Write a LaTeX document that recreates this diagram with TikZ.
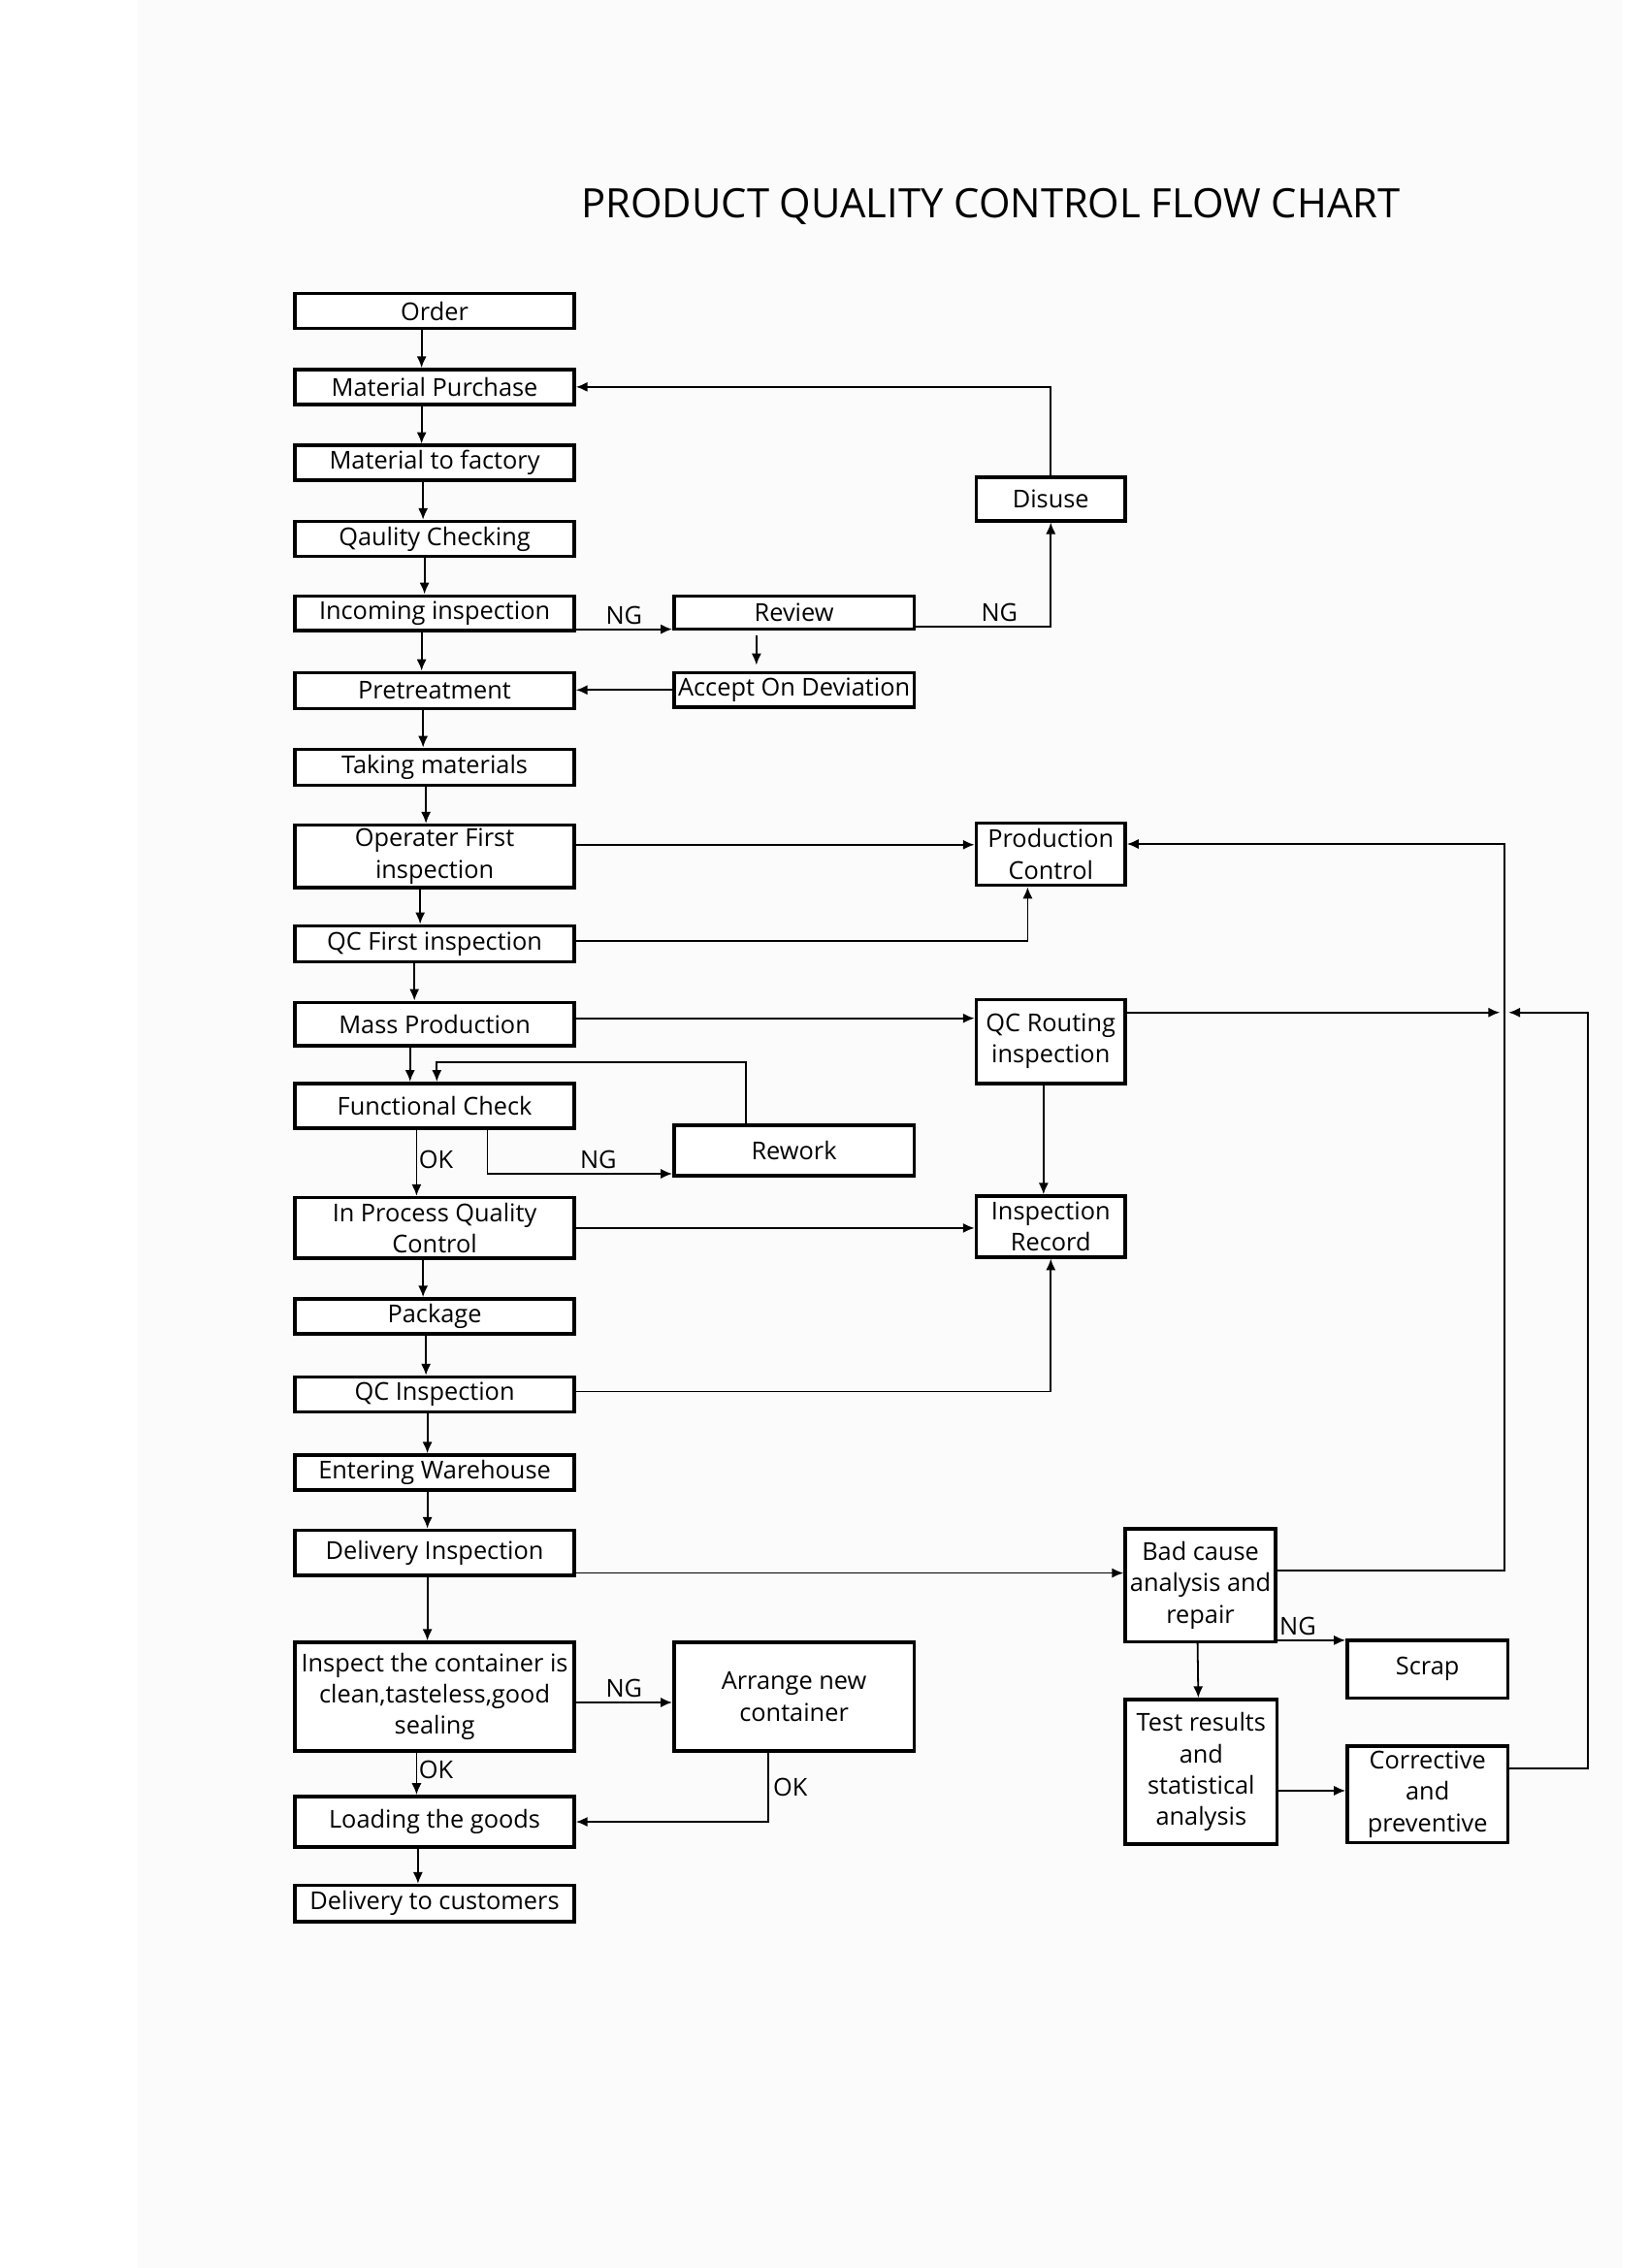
\documentclass[tikz,border=0pt]{standalone}
\usepackage{fontspec}
\setmainfont{Open Sans}
\usetikzlibrary{arrows.meta}

\begin{document}
\begin{tikzpicture}[x=0.5pt,y=-0.5pt,
  box/.style={draw,line width=1.2pt,fill=white,inner sep=0pt,align=center,font=\fontsize{8.5}{10.8}\selectfont},
  lbl/.style={font=\fontsize{8.5}{10.8}\selectfont,inner sep=1.5pt},
  arr/.style={line width=0.6pt,-{Latex[length=4pt,width=3.4pt]}}]
\useasboundingbox (0,0) rectangle (1140,1568);
\fill[black!1.5] (95,0) rectangle (1122,1568);

\node[font=\fontsize{14}{17}\selectfont] (title) at (685,143) {PRODUCT QUALITY CONTROL FLOW CHART};

% main column
\tikzstyle{lbox}=[box,minimum width=96.5pt]
\node[lbox,minimum height=12pt] (order) at (300.5,215) {Order};
\node[lbox,minimum height=12pt] (purchase) at (300.5,267.5) {Material Purchase};
\node[lbox,minimum height=12pt] (factory) at (300.5,320) {Material to factory};
\node[lbox,minimum height=12pt] (checking) at (300.5,372.5) {Qaulity Checking};
\node[lbox,minimum height=12pt] (incoming) at (300.5,424) {Incoming inspection};
\node[lbox,minimum height=12.5pt] (pretreat) at (300.5,477.5) {Pretreatment};
\node[lbox,minimum height=12.5pt] (taking) at (300.5,530.5) {Taking materials};
\node[lbox,minimum height=21.5pt] (operater) at (300.5,592) {Operater First\\inspection};
\node[lbox,minimum height=12.5pt] (qcfirst) at (300.5,652.5) {QC First inspection};
\node[lbox,minimum height=15pt] (mass) at (300.5,708) {Mass Production};
\node[lbox,minimum height=15.5pt] (functional) at (300.5,764.5) {Functional Check};
\node[lbox,minimum height=21pt] (ipqc) at (300.5,849) {In Process Quality\\Control};
\node[lbox,minimum height=12pt] (package) at (300.5,910) {Package};
\node[lbox,minimum height=12pt] (qcinsp) at (300.5,964) {QC Inspection};
\node[lbox,minimum height=12pt] (warehouse) at (300.5,1018) {Entering Warehouse};
\node[lbox,minimum height=15.5pt] (delivinsp) at (300.5,1073.5) {Delivery Inspection};
\node[lbox,minimum height=37.5pt] (container) at (300.5,1173) {Inspect the container is\\clean,tasteless,good\\sealing};
\node[lbox,minimum height=17.5pt] (loading) at (300.5,1259.5) {Loading the goods};
\node[lbox,minimum height=12.5pt] (customers) at (300.5,1316) {Delivery to customers};

% middle column
\tikzstyle{mbox}=[box,minimum width=83pt]
\node[mbox,minimum height=11.5pt] (review) at (549,423.5) {Review};
\node[mbox,minimum height=12pt] (accept) at (549,477) {Accept On Deviation};
\node[mbox,minimum height=17.5pt] (rework) at (549,795.5) {Rework};
\node[mbox,minimum height=37.5pt] (arrange) at (549,1173) {Arrange new\\container};

% right column
\tikzstyle{rbox}=[box,minimum width=51.5pt]
\node[rbox,minimum height=15pt] (disuse) at (726.5,345) {Disuse};
\node[rbox,minimum height=21.5pt] (prodctrl) at (726.5,590.5) {Production\\Control};
\node[rbox,minimum height=29pt] (routing) at (726.5,720) {QC Routing\\inspection};
\node[rbox,minimum height=21pt] (record) at (726.5,848) {Inspection\\Record};
\node[box,minimum width=52pt,minimum height=39pt] (badcause) at (830,1096) {Bad cause\\analysis and\\repair};
\node[box,minimum width=52.5pt,minimum height=50pt] (test) at (830.5,1225) {Test results\\and\\statistical\\analysis};
\node[box,minimum width=55.5pt,minimum height=20pt] (scrap) at (987,1154) {Scrap};
\node[box,minimum width=55.5pt,minimum height=33.5pt] (corrective) at (987,1240.5) {Corrective\\and\\preventive};
\coordinate (bus) at (1040,700);

% straight down the main column
\foreach \a/\b/\s in {order/purchase/-4.5,purchase/factory/-4.5,factory/checking/-4,checking/incoming/-3.5,
  incoming/pretreat/-4.5,pretreat/taking/-4,taking/operater/-3,operater/qcfirst/-5,qcfirst/mass/-7,
  mass/functional/-8.5,ipqc/package/-4,package/qcinsp/-3,qcinsp/warehouse/-2.5,warehouse/delivinsp/-2.5,
  delivinsp/container/-2.5,loading/customers/-5.75}
  \draw[arr] ([xshift=\s pt]\a.south) -- ([xshift=\s pt]\b.north);

% incoming branch
\draw[arr] ([yshift=-5.5pt]incoming.east) -- node[lbl,above]{NG} ([yshift=-5.5pt]incoming.east -| review.west);
\draw[arr] ([yshift=-5pt]review.east) -| node[lbl,pos=0.31,above]{NG} (disuse.south);
\draw[arr] (disuse.north) |- (purchase.east);
\draw[arr,shorten <=1.5pt,shorten >=2pt] ([xshift=-13pt]review.south) -- ([xshift=-13pt]accept.north);
\draw[arr] (accept.west) -- (accept.west -| pretreat.east);

% production
\draw[arr] ([yshift=4pt]operater.east) -- ([yshift=4pt]operater.east -| prodctrl.west);
\draw[arr] ([yshift=1pt]qcfirst.east) -| ([xshift=-8pt]prodctrl.south);
\draw[arr] ([yshift=2pt]mass.east) -- ([yshift=2pt]mass.east -| routing.west);
\draw[arr] ([xshift=-16.75pt]rework.north) |- ([xshift=0.75pt,yshift=6.7pt]functional.north) -- ([xshift=0.75pt]functional.north);
\draw[arr] ([xshift=18.25pt]functional.south) |- node[lbl,pos=0.8,above]{NG} ([yshift=-8pt]rework.west);
\draw[arr] ([xshift=-6.25pt]functional.south) -- node[lbl,right=-1pt,pos=0.45]{OK} ([xshift=-6.25pt]ipqc.north);
\draw[arr] ([xshift=-2.5pt]routing.south) -- ([xshift=-2.5pt]record.north);
\draw[arr] (ipqc.east) -- (ipqc.east -| record.west);
\draw[arr] ([yshift=1pt]qcinsp.east) -| (record.south);

% delivery
\draw[arr] ([yshift=-7pt]delivinsp.east) -- ([yshift=-7pt]delivinsp.east -| badcause.west);
\draw[arr] ([yshift=5pt]badcause.east) -| (bus) |- ([yshift=3.5pt]prodctrl.east);
\draw[arr] ([yshift=10pt]routing.east) -- ([xshift=-1.5pt]bus);
\draw[arr] ([yshift=9pt]corrective.east) -- ++(27pt,0) |- ([xshift=1.5pt]bus);
\draw[arr] ([yshift=-19pt]badcause.east) -- node[lbl,pos=0.3,above]{NG} ([yshift=-19pt]badcause.east -| scrap.west);
\draw[arr] ([xshift=-1pt]badcause.south) -- ([xshift=-1pt]test.north);
\draw[arr] ([yshift=-6.5pt]test.east) -- ([yshift=-6.5pt]test.east -| corrective.west);
\draw[arr] ([yshift=-2pt]container.east) -- node[lbl,above]{NG} ([yshift=-2pt]container.east -| arrange.west);
\draw[arr] ([xshift=-9pt]arrange.south) |- node[lbl,pos=0.25,right]{OK} (loading.east);
\draw[arr] ([xshift=-6.25pt]container.south) -- node[lbl,right=-1pt,pos=0.4]{OK} ([xshift=-6.25pt]loading.north);
\end{tikzpicture}
\end{document}
